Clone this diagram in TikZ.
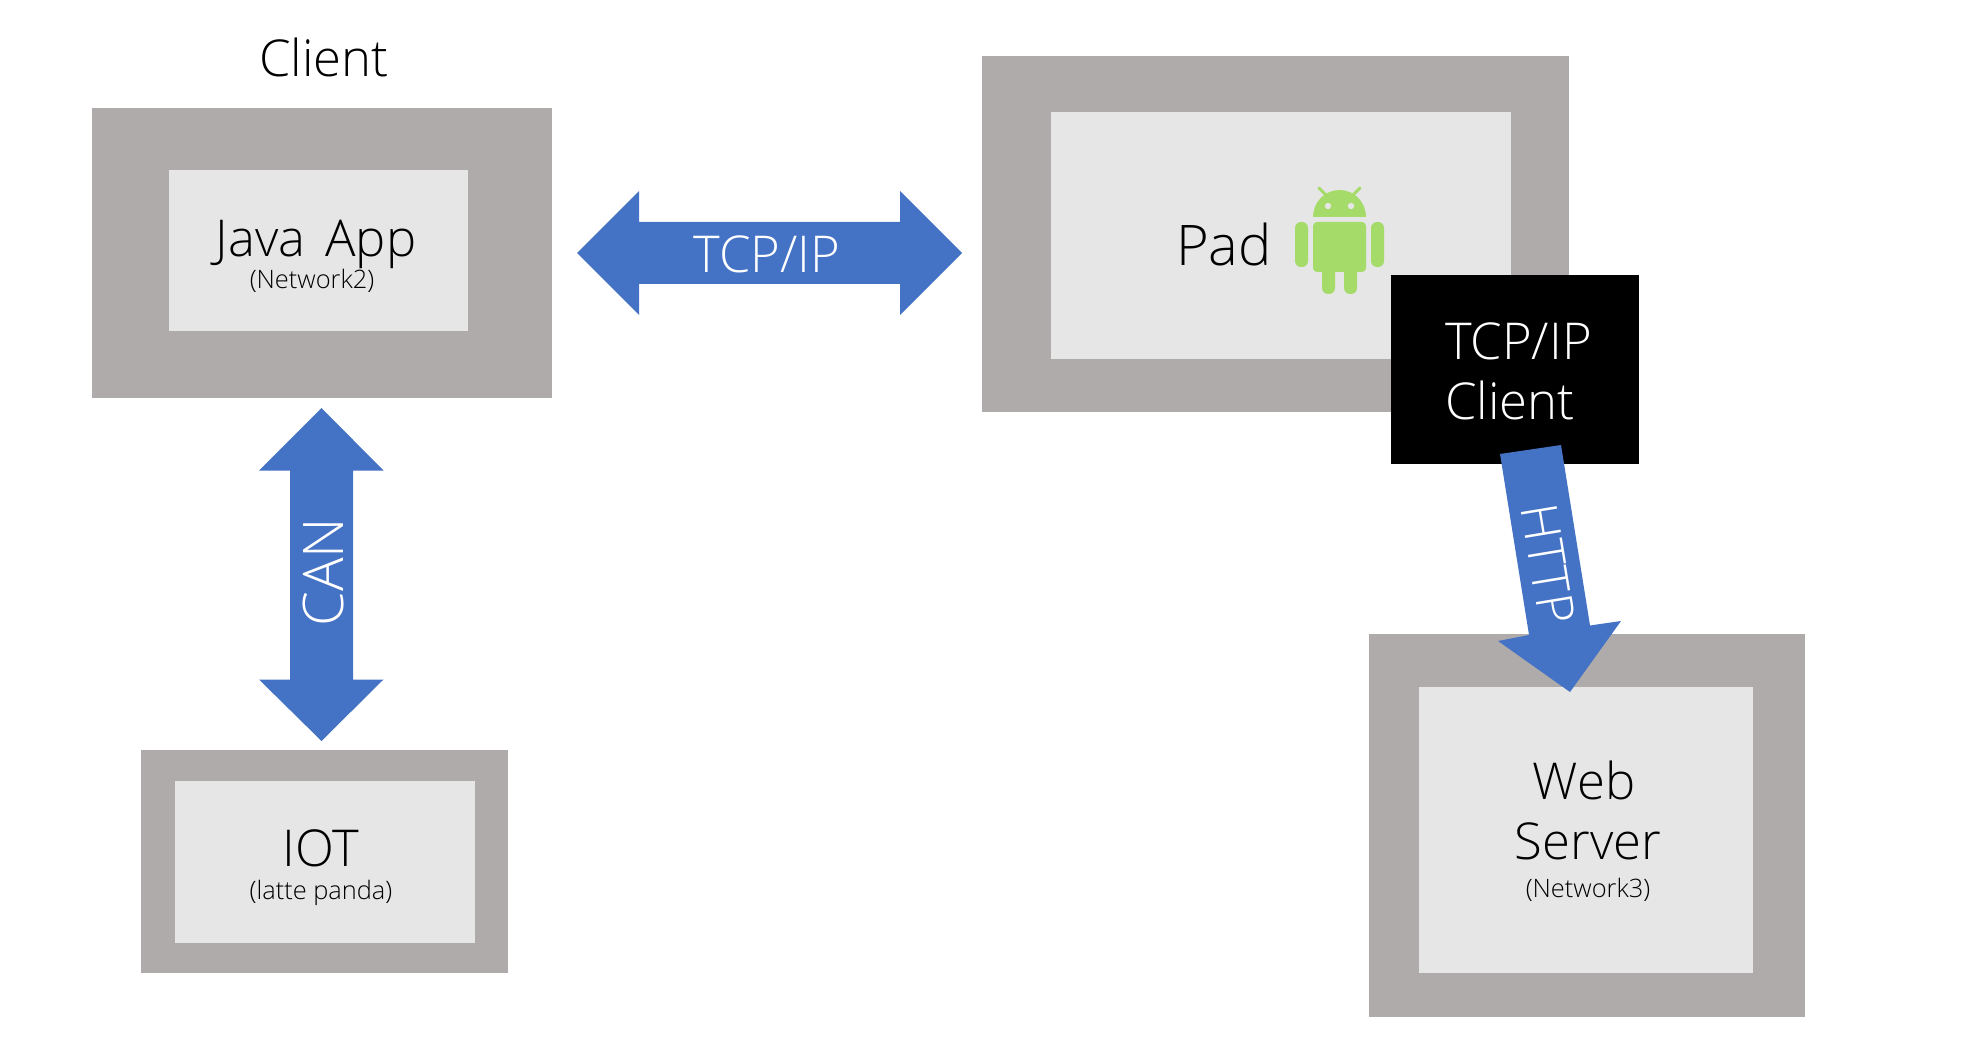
\documentclass[tikz,border=0pt]{standalone}
\usepackage{fontspec}
\setmainfont{Open Sans}[UprightFont=* Light]
\definecolor{outergray}{HTML}{AFABAB}
\definecolor{innergray}{HTML}{E6E6E6}
\definecolor{arrowblue}{HTML}{4472C4}
\definecolor{droid}{HTML}{A5DB69}
\tikzset{
  x=0.5pt,y=-0.5pt,
  plain/.style={inner sep=0pt,outer sep=0pt,draw=none},
  outerbox/.style={plain,fill=outergray},
  innerbox/.style={plain,fill=innergray},
  blackbox/.style={plain,fill=black},
  big/.style={plain,anchor=base,font=\fontsize{25.4}{28}\selectfont},
  bigger/.style={plain,anchor=base,font=\fontsize{28}{30}\selectfont},
  small/.style={plain,anchor=base,font=\fontsize{12.7}{14}\selectfont},
  arrowshape/.style={fill=arrowblue,draw=none},
  droidpart/.style={fill=droid,draw=none},
}
\begin{document}
\begin{tikzpicture}
\useasboundingbox (0,0) rectangle (1962,1042);
% boxes
\node[outerbox,minimum width=230pt,minimum height=145pt] (clientO) at (322,253) {};
\node[innerbox,minimum width=149.5pt,minimum height=80.5pt] (clientI) at (318.5,250.5) {};
\node[outerbox,minimum width=293.5pt,minimum height=178pt] (padO) at (1275.5,234) {};
\node[innerbox,minimum width=230pt,minimum height=123.5pt] (padI) at (1281,235.5) {};
\node[blackbox,minimum width=124pt,minimum height=94.5pt] (tcpC) at (1515,369.5) {};
\node[outerbox,minimum width=183.5pt,minimum height=111.5pt] (iotO) at (324.5,861.5) {};
\node[innerbox,minimum width=150pt,minimum height=81pt] (iotI) at (325,862) {};
\node[outerbox,minimum width=218pt,minimum height=191.5pt] (webO) at (1587,825.5) {};
\node[innerbox,minimum width=167pt,minimum height=143pt] (webI) at (1586,830) {};
% arrows
\path[arrowshape] (577,253) -- (639,191) -- (639,222) -- (900,222) -- (900,191) -- (962,253) -- (900,315) -- (900,284) -- (639,284) -- (639,315) -- cycle;
\path[arrowshape] (321.5,408) -- (383.5,470.5) -- (353,470.5) -- (353,679.5) -- (383.5,679.5) -- (321.5,741) -- (259,679.5) -- (290,679.5) -- (290,470.5) -- (259,470.5) -- cycle;
\path[arrowshape] (1500,454) -- (1561,445) -- (1590,625.5) -- (1621,621) -- (1570,692) -- (1498,641) -- (1529,635) -- cycle;
% android
\path[droidpart] (1313,217) arc[start angle=180,end angle=360,x radius=26.5,y radius=27] -- cycle;
\path[droidpart,rounded corners=2pt] (1313,222) -- (1366,222) -- (1366,272) -- (1313,272) -- cycle;
\path[droidpart,rounded corners=3pt] (1295,222) rectangle (1308,267);
\path[droidpart,rounded corners=3pt] (1371,222) rectangle (1384,267);
\path[droidpart,rounded corners=3pt] (1322,260) rectangle (1335,294);
\path[droidpart,rounded corners=3pt] (1344,260) rectangle (1357,294);
\draw[droid,line width=1.5pt,line cap=round] (1319,188) -- (1328,197);
\draw[droid,line width=1.5pt,line cap=round] (1360,188) -- (1351,197);
\fill[innergray] (1328,206) circle[radius=3.2];
\fill[innergray] (1351,206) circle[radius=3.2];
% labels
\node[big] (tClient) at (324,77) {Client};
\node[big] (tJava) at (316,256.5) {Java\hspace{3.5pt} App};
\node[small] (tNet2) at (312,289) {(Network2)};
\node[big,text=white] (tTcp) at (767,272.5) {TCP/IP};
\node[bigger] (tPad) at (1224,265.5) {Pad};
\node[big,text=white,anchor=base west] (tTcp2) at (1445,360) {TCP/IP};
\node[big,text=white,anchor=base west] (tCl2) at (1445,420) {Client};
\node[bigger,text=white,rotate=90] (tCan) at (343,572) {CAN};
\node[big,text=white,anchor=center,rotate=-80.6] (tHttp) at (1548,564) {HTTP};
\node[big] (tIot) at (321,866) {IOT};
\node[small] (tLatte) at (321,899) {(latte panda)};
\node[big] (tWeb) at (1584,799) {Web};
\node[big] (tServer) at (1588,859) {Server};
\node[small] (tNet3) at (1588,897) {(Network3)};
\end{tikzpicture}
\end{document}
